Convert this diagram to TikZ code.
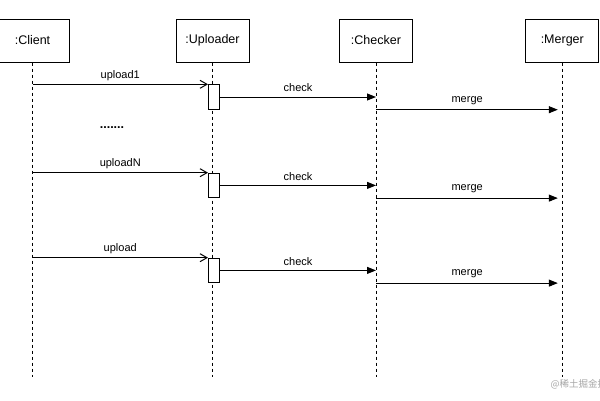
\documentclass[tikz,border=0pt]{standalone}
\usepackage{fontspec}
\setmainfont{Liberation Sans}
\newfontfamily\cjk{Noto Sans CJK SC}
\usetikzlibrary{arrows.meta}
\begin{document}
\begin{tikzpicture}[x=1pt,y=-1pt,
  head/.style={draw, line width=1pt, minimum width=73pt, minimum height=43pt, inner sep=0pt, font=\fontsize{12.5}{14}\selectfont},
  act/.style={draw, line width=1pt, fill=white, minimum width=11pt, minimum height=24.4pt, inner sep=0pt, anchor=north west},
  life/.style={line width=1pt, dash pattern=on 3pt off 3pt},
  msg/.style={line width=1pt, -{Straight Barb[length=7pt,width=8pt]}},
  call/.style={line width=1pt, -{Triangle[length=9pt,width=7pt]}},
  lbl/.style={font=\fontsize{11}{13}\selectfont, midway, yshift=9pt},
  wmark/.style={anchor=west, text=black!35, font=\cjk\fontsize{9.5}{11}\selectfont}
]
\clip (0,0) rectangle (600,400);
\fill[white] (0,0) rectangle (600,400);
% heads
\node[head] (client) at (32.5,40.5) {:Client};
\node[head] (uploader) at (212.5,40.5) {:Uploader};
\node[head] (checker) at (376,40.5) {:Checker};
\node[head] (merger) at (562.3,40.5) {:Merger};
% lifelines
\coordinate (clientEnd) at (32.5,377);
\coordinate (uploaderEnd) at (212.5,377);
\coordinate (checkerEnd) at (376,377);
\coordinate (mergerEnd) at (562.3,377);
\draw[life] (client.south) -- (clientEnd);
\draw[life] (uploader.south) -- (uploaderEnd);
\draw[life] (checker.south) -- (checkerEnd);
\draw[life] (merger.south) -- (mergerEnd);
% activations
\node[act] (a1) at (208,84.3) {};
\node[act] (a2) at (208,172.7) {};
\node[act] (a3) at (208,257.7) {};
% messages
\draw[msg] (a1.north west -| client) -- (a1.north west) node[lbl] {upload1};
\draw[call] (a1.east) -- (a1.east -| checker) node[lbl] {check};
\draw[call, shorten >=4.5pt] (a1.south -| checker) -- (a1.south -| merger) node[lbl, xshift=-2pt] {merge};

\draw[msg] (a2.north west -| client) -- (a2.north west) node[lbl] {uploadN};
\draw[call] (a2.east) -- (a2.east -| checker) node[lbl] {check};
\draw[call, shorten >=4.5pt] (a2.south -| checker) -- (a2.south -| merger) node[lbl, xshift=-2pt] {merge};

\draw[msg] (a3.north west -| client) -- (a3.north west) node[lbl] {upload};
\draw[call] (a3.east) -- (a3.east -| checker) node[lbl] {check};
\draw[call, shorten >=4.5pt] (a3.south -| checker) -- (a3.south -| merger) node[lbl, xshift=-2pt] {merge};
% dots
\node[anchor=base, font=\bfseries\fontsize{12.5}{14}\selectfont] (dots) at (112,128.5) {.......};
% watermark
\node[wmark] (wm) at (547,384) {@稀土掘金技术社区};
\end{tikzpicture}
\end{document}
